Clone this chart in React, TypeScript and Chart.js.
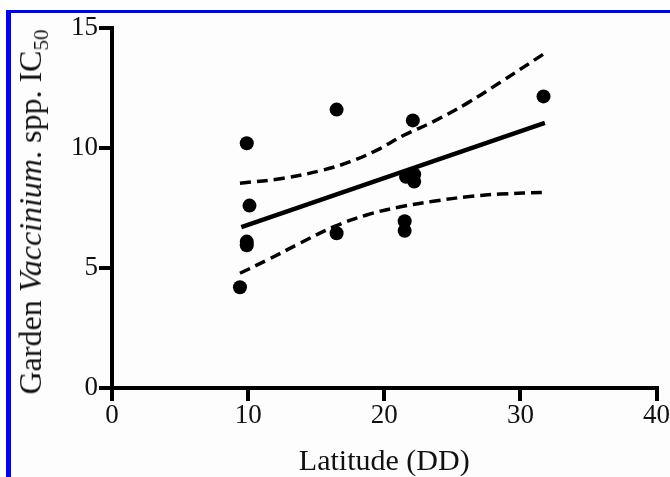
import React, { useEffect, useRef } from "react";
import { Chart, registerables } from "chart.js";

Chart.register(...registerables);

// Observed points: latitude (DD) vs. garden Vaccinium spp. IC50
const latitude = [9.4, 9.9, 10.1, 9.9, 9.9, 16.5, 16.5, 21.5, 21.5, 21.6, 22.2, 22.2, 22.1, 31.7];
const ic50 = [4.2, 10.2, 7.6, 6.1, 5.95, 11.6, 6.45, 6.95, 6.55, 8.8, 8.9, 8.6, 11.15, 12.15];

// Regression line
const fitLatitude = [9.5, 31.8];
const fitIc50 = [6.7, 11.05];

// 95% confidence band
const upperLatitude = [9.4, 12.6, 15.5, 17.5, 19.5, 21.4, 23.6, 26.1, 28.5, 31.8];
const upperIc50 = [8.53, 8.74, 9.08, 9.43, 9.92, 10.52, 11.1, 11.87, 12.73, 13.95];
const lowerLatitude = [9.4, 11.4, 13.8, 16.3, 18.7, 21.2, 23.6, 26.1, 28.5, 31.8];
const lowerIc50 = [4.78, 5.33, 6.03, 6.72, 7.21, 7.55, 7.78, 7.97, 8.08, 8.15];

const xMin = 0, xMax = 40, xStep = 10;
const yMin = 0, yMax = 15, yStep = 5;
const xTitle = "Latitude (DD)";

const toXY = (xs: number[], ys: number[]) => xs.map((x, i) => ({ x, y: ys[i] }));

const FONT = '"Liberation Serif", "Times New Roman", serif';

export default function App() {
  const ref = useRef<HTMLCanvasElement>(null);

  useEffect(() => {
    const canvas = ref.current;
    if (!canvas) return;
    const axisCommon = {
      type: "linear" as const,
      grid: {
        drawOnChartArea: false,
        drawTicks: true,
        tickLength: 13,
        color: "#000",
        lineWidth: 4,
      },
      border: { display: true, color: "#000", width: 4 },
    };
    const chart = new Chart(canvas, {
      type: "scatter",
      data: {
        datasets: [
          {
            type: "line",
            data: toXY(upperLatitude, upperIc50),
            borderColor: "#000",
            borderWidth: 3.5,
            borderDash: [11, 6],
            pointRadius: 0,
            tension: 0.4,
            fill: false,
          },
          {
            type: "line",
            data: toXY(lowerLatitude, lowerIc50),
            borderColor: "#000",
            borderWidth: 3.5,
            borderDash: [11, 6],
            pointRadius: 0,
            tension: 0.4,
            fill: false,
          },
          {
            type: "line",
            data: toXY(fitLatitude, fitIc50),
            borderColor: "#000",
            borderWidth: 4.5,
            pointRadius: 0,
            fill: false,
          },
          {
            type: "scatter",
            data: toXY(latitude, ic50),
            backgroundColor: "#000",
            borderColor: "#000",
            borderWidth: 0,
            pointRadius: 7,
          },
        ],
      } as any,
      options: {
        animation: false,
        responsive: false,
        maintainAspectRatio: false,
        layout: { padding: { left: 0, right: 13, top: 28, bottom: 0 } },
        plugins: { legend: { display: false }, tooltip: { enabled: false } },
        scales: {
          x: {
            ...axisCommon,
            min: xMin,
            max: xMax,
            ticks: {
              stepSize: xStep,
              color: "#111",
              font: { family: FONT, size: 27, lineHeight: 1.1 },
              padding: 0,
              maxRotation: 0,
              autoSkip: false,
            },
            title: {
              display: true,
              text: xTitle,
              color: "#111",
              font: { family: FONT, size: 30, lineHeight: 1.0 },
              padding: 0,
            },
            afterFit: (s: any) => {
              s.height = 89;
            },
          },
          y: {
            ...axisCommon,
            min: yMin,
            max: yMax,
            ticks: {
              stepSize: yStep,
              color: "#111",
              font: { family: FONT, size: 27 },
              padding: 1,
            },
            afterFit: (s: any) => {
              s.width = 112;
            },
          },
        },
      } as any,
    });
    return () => chart.destroy();
  }, []);

  return (
    <div
      style={{
        position: "fixed",
        left: 0,
        top: 0,
        width: 670,
        height: 477,
        overflow: "hidden",
        background: "#fff",
      }}
    >
      <div
        style={{
          position: "absolute",
          left: 6,
          top: 10,
          right: -20,
          bottom: -20,
          borderTop: "3px solid #0000fe",
          borderLeft: "5px solid #0000fe",
          background: "#fdfdfd",
        }}
      />
      <canvas
        ref={ref}
        width={670}
        height={477}
        style={{ position: "absolute", left: 0, top: 0, width: 670, height: 477 }}
      />
      <div
        style={{
          position: "absolute",
          left: 30,
          top: 212,
          transform: "translate(-50%, -50%) rotate(-90deg)",
          whiteSpace: "nowrap",
          fontFamily: FONT,
          fontSize: 32,
          lineHeight: "32px",
          color: "#111",
        }}
      >
        Garden <i>Vaccinium</i>. spp. IC
        <sub style={{ fontSize: 21, verticalAlign: "-7px", lineHeight: 0 }}>50</sub>
      </div>
    </div>
  );
}
